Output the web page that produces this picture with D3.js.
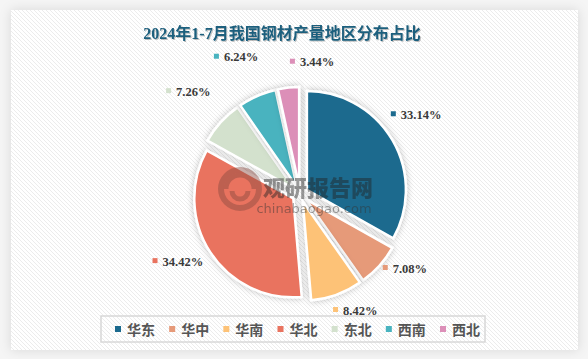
<!DOCTYPE html>
<html>
<head>
<meta charset="utf-8">
<script src="https://cdn.jsdelivr.net/npm/d3@7/dist/d3.min.js"></script>
<style>
html,body{margin:0;padding:0;background:#f4f4f4;}
svg{display:block;}
</style>
</head>
<body>
<svg id="chart" width="588" height="359"></svg>
<script>
const titleText = "2024年1-7月我国钢材产量地区分布占比";
const categories = ["华东","华中","华南","华北","东北","西南","西北"];
const values = [33.14, 7.08, 8.42, 34.42, 7.26, 6.24, 3.44];
const colors = ["#1b6a8e","#e69a79","#fdc277","#e9735f","#d3e1cd","#48b3bf","#dc8fb8"];

const W = 588, H = 359;
const svg = d3.select("#chart");
const defs = svg.append("defs");

const pat = defs.append("pattern").attr("id","stripes").attr("patternUnits","userSpaceOnUse")
  .attr("width",4).attr("height",4);
pat.append("rect").attr("width",4).attr("height",4).attr("fill","#ffffff");
pat.append("path").attr("d","M-1,-1 L5,5 M-1,3 L1,5 M3,-1 L5,1").attr("stroke","#ececec").attr("stroke-width",1);

const sh = defs.append("filter").attr("id","panelShadow").attr("x","-10%").attr("y","-10%").attr("width","120%").attr("height","120%");
sh.append("feDropShadow").attr("dx",0).attr("dy",0).attr("stdDeviation",6).attr("flood-color","#000").attr("flood-opacity",0.12);

const ss = defs.append("filter").attr("id","sliceShadow").attr("x","-20%").attr("y","-20%").attr("width","140%").attr("height","140%");
ss.append("feDropShadow").attr("dx",0).attr("dy",0).attr("stdDeviation",3).attr("flood-color","#000").attr("flood-opacity",0.25);

const ts = defs.append("filter").attr("id","titleShadow");
ts.append("feDropShadow").attr("dx",1).attr("dy",1).attr("stdDeviation",0.6).attr("flood-color","#000").attr("flood-opacity",0.25);

// panel
svg.append("rect").attr("x",0).attr("y",0).attr("width",W).attr("height",H).attr("fill","#f5f5f5");
svg.append("rect").attr("x",11).attr("y",10).attr("width",567).attr("height",340)
  .attr("fill","url(#stripes)").attr("filter","url(#panelShadow)");

// title
svg.append("text").attr("x",282).attr("y",39).attr("text-anchor","middle")
  .attr("font-family","'Liberation Serif','Noto Sans CJK SC',serif").attr("font-weight","bold")
  .attr("font-size",16).attr("fill","#1d5f7d").attr("filter","url(#titleShadow)").text(titleText);

// pie
const cx = 300, cy = 194, R = 99, offset = 8;
const pie = d3.pie().sort(null).value(d => d.v);
const data = categories.map((c,i)=>({c, v: values[i], col: colors[i]}));
const arcs = pie(data);
const arcGen = d3.arc().innerRadius(0).outerRadius(R);

const g = svg.append("g").attr("transform",`translate(${cx},${cy})`);
g.selectAll("path.slice").data(arcs).enter().append("path").attr("class","slice")
  .attr("d",arcGen)
  .attr("transform",d=>{const m=(d.startAngle+d.endAngle)/2;return `translate(${Math.sin(m)*offset},${-Math.cos(m)*offset})`;})
  .attr("fill",d=>d.data.col).attr("stroke","#fff").attr("stroke-width",2.5)
  .attr("filter","url(#sliceShadow)");

// legend geometry
const lx0 = 101, lx1 = 485, ly = 316, lh = 26;

// labels on a ring, with bounds clamp and overlap spreading
const labelR = 140, ox = cx - 5, oy = cy - 9;
const yMax = ly - 6, minGap = 42;
const fmt = d3.format(".2f");
const blocks = arcs.map(d=>{
  const m=(d.startAngle+d.endAngle)/2;
  return {d, x: ox + Math.sin(m)*labelR, y: oy - Math.cos(m)*labelR, w: 50, h: 13, m};
});
const onCircle = b => {
  const dy = b.y - oy; const dx = Math.sqrt(Math.max(0, labelR*labelR - dy*dy));
  b.x = ox + (b.m < Math.PI ? dx : -dx);
};
// right side: clamp bottom, spread upward
const right = blocks.filter(b=>b.m<Math.PI).sort((a,b)=>b.y-a.y);
let prev = null;
right.forEach(b=>{
  let moved = false;
  if (b.y > yMax){ b.y = yMax; moved = true; }
  if (prev && b.y > prev.y - minGap){ b.y = prev.y - minGap; moved = true; }
  if (moved) onCircle(b);
  prev = b;
});
// top: avoid overlap by pushing later labels right
for (let i=1;i<blocks.length;i++){
  const a=blocks[i-1], b=blocks[i];
  if (a.m > Math.PI && Math.abs(a.y-b.y)<a.h+6 && b.x - a.x < a.w+20){ b.x = a.x + a.w + 26; b.y = a.y + 5; }
}
const lg = svg.append("g");
blocks.forEach(b=>{
  const left = b.x - b.w/2;
  lg.append("rect").attr("x",left).attr("y",b.y-3).attr("width",5).attr("height",5).attr("fill",b.d.data.col);
  lg.append("text").attr("x",left+10).attr("y",b.y+4.5)
    .attr("font-family","'Liberation Serif',serif").attr("font-weight","bold").attr("font-size",12.5)
    .attr("fill","#3a3a3a").text(fmt(b.d.data.v)+"%");
});

// watermark
const wm = svg.append("g").attr("opacity",0.45);
wm.append("circle").attr("cx",240).attr("cy",189).attr("r",19).attr("fill","none").attr("stroke","#8a4a40").attr("stroke-width",6);
wm.append("path").attr("d","M226,189 A14,14 0 0 1 254,189 M232,191 A8,8 0 0 0 248,191").attr("fill","none").attr("stroke","#8a4a40").attr("stroke-width",5);
wm.append("text").attr("x",318).attr("y",196).attr("text-anchor","middle")
  .attr("font-family","'Noto Sans CJK SC',sans-serif").attr("font-weight","900").attr("font-size",22)
  .attr("fill","#222").text("观研报告网");
wm.append("text").attr("x",314).attr("y",213).attr("text-anchor","middle")
  .attr("font-family","'DejaVu Sans',sans-serif").attr("font-size",13)
  .attr("fill","#333").text("chinabaogao.com");

// legend
svg.append("rect").attr("x",lx0).attr("y",ly).attr("width",lx1-lx0).attr("height",lh)
  .attr("fill","none").attr("stroke","#d8d8d8").attr("stroke-width",1.5);
const lScale = d3.scalePoint().domain(categories).range([115,440]);
const leg = svg.append("g");
categories.forEach((c,i)=>{
  const x = lScale(c);
  leg.append("rect").attr("x",x).attr("y",ly+10).attr("width",6).attr("height",6).attr("fill",colors[i]);
  leg.append("text").attr("x",x+12).attr("y",ly+18.5)
    .attr("font-family","'Noto Sans CJK SC',sans-serif").attr("font-weight","bold").attr("font-size",14)
    .attr("fill","#555").text(c);
});
</script>
</body>
</html>
